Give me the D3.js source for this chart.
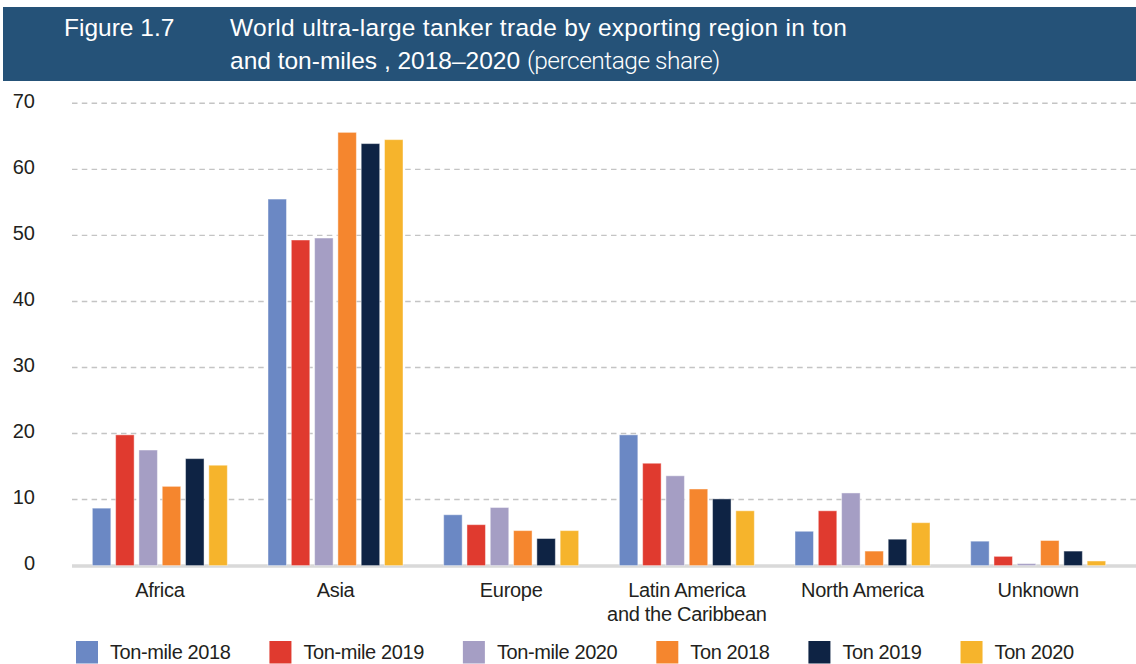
<!DOCTYPE html>
<html>
<head>
<meta charset="utf-8">
<script src="https://cdn.jsdelivr.net/npm/d3@7/dist/d3.min.js"></script>
<style>
  html, body { margin: 0; padding: 0; background: #ffffff; }
  svg { display: block; }
  text { font-family: "Liberation Sans", Arial, sans-serif; }
</style>
</head>
<body>
<svg id="chart" width="1136" height="664"></svg>
<script>
// ---- Data ----
const categories = ["Africa", "Asia", "Europe", "Latin America\nand the Caribbean", "North America", "Unknown"];
const seriesNames = ["Ton-mile 2018", "Ton-mile 2019", "Ton-mile 2020", "Ton 2018", "Ton 2019", "Ton 2020"];
const tonMile2018 = [8.7, 55.5, 7.7, 19.8, 5.2, 3.7];
const tonMile2019 = [19.8, 49.3, 6.2, 15.5, 8.3, 1.4];
const tonMile2020 = [17.5, 49.6, 8.8, 13.6, 11.0, 0.3];
const ton2018 = [12.0, 65.6, 5.3, 11.6, 2.2, 3.8];
const ton2019 = [16.2, 63.9, 4.1, 10.1, 4.0, 2.2];
const ton2020 = [15.2, 64.5, 5.3, 8.3, 6.5, 0.7];
const yTicks = [0, 10, 20, 30, 40, 50, 60, 70];
const seriesColors = ["#6b88c4", "#e03a2f", "#a59ec4", "#f5862e", "#0e2344", "#f6b42c"];

const seriesValues = [tonMile2018, tonMile2019, tonMile2020, ton2018, ton2019, ton2020];

// ---- Layout ----
const svg = d3.select("#chart");
const W = 1136;
const plotLeft = 72, plotRight = 1126, gridRight = 1136;
const yTop = 103.3, yBottom = 565.6;

// Header
svg.append("rect").attr("x", 3).attr("y", 7).attr("width", W - 3).attr("height", 74).attr("fill", "#255278");
svg.append("text").attr("x", 64).attr("y", 36).attr("fill", "#ffffff")
  .style("font-size", "24.5px").text("Figure 1.7");
svg.append("text").attr("x", 230).attr("y", 36).attr("fill", "#ffffff")
  .style("font-size", "24.5px").style("letter-spacing", "0.3px")
  .text("World ultra-large tanker trade by exporting region in ton");
const t2 = svg.append("text").attr("x", 230).attr("y", 68.5).attr("fill", "#ffffff").style("font-size", "24.5px");
t2.append("tspan").text("and ton-miles , 2018\u20132020 ");
t2.append("tspan").style("font-family", "Roboto, 'Liberation Sans', sans-serif").style("font-weight", "300")
  .style("letter-spacing", "-0.5px").text("(percentage share)");

// Scales
const y = d3.scaleLinear().domain([0, 70]).range([yBottom, yTop]);
const pI = 0.2315;
const x0 = d3.scaleBand().domain(categories).range([plotLeft, plotRight]).paddingInner(pI).paddingOuter(pI / 2);
const x1 = d3.scaleBand().domain(seriesNames).range([0, x0.bandwidth()]).paddingInner(0.206).paddingOuter(0);

// Gridlines
const grid = svg.append("g");
grid.selectAll("line").data(yTicks.filter(d => d > 0)).join("line")
  .attr("x1", plotLeft).attr("x2", gridRight)
  .attr("y1", d => y(d)).attr("y2", d => y(d))
  .attr("stroke", "#c4c4c4").attr("stroke-width", 1.4).attr("stroke-dasharray", "5.5,4.3");

// Baseline (drawn beneath bars)
svg.append("line").attr("x1", plotLeft).attr("x2", gridRight)
  .attr("y1", y(0) + 0.4).attr("y2", y(0) + 0.4)
  .attr("stroke", "#d9d9d9").attr("stroke-width", 3.5);

// Y axis labels via d3 axis
const yAxis = svg.append("g").attr("transform", `translate(${plotLeft},0)`)
  .call(d3.axisLeft(y).tickValues(yTicks).tickSize(0).tickPadding(37));
yAxis.select(".domain").remove();
yAxis.selectAll("text").style("font-size", "20px").attr("fill", "#231f20")
  .attr("dy", "0.2em").attr("x", -37).attr("text-anchor", "end");

// Bars
const groups = svg.append("g").selectAll("g").data(categories).join("g")
  .attr("transform", d => `translate(${x0(d)},0)`);
groups.selectAll("rect").data((d, i) => seriesNames.map((s, j) => ({ s, v: seriesValues[j][i], c: seriesColors[j] })))
  .join("rect")
  .attr("x", d => x1(d.s)).attr("width", x1.bandwidth())
  .attr("y", d => y(d.v)).attr("height", d => y(0) - y(d.v))
  .attr("fill", d => d.c)
  .attr("stroke", "#ffffff").attr("stroke-opacity", 0.45).attr("stroke-width", 1);

// X axis labels
const xAxis = svg.append("g").attr("transform", `translate(0,${yBottom})`)
  .call(d3.axisBottom(x0).tickSize(0).tickFormat(""));
xAxis.select(".domain").remove();
xAxis.selectAll(".tick").each(function (d) {
  const lines = d.split("\n");
  const t = d3.select(this).append("text").attr("text-anchor", "middle").attr("fill", "#231f20")
    .style("font-size", "20px").style("letter-spacing", "-0.3px");
  lines.forEach((ln, k) => t.append("tspan").attr("x", 0).attr("y", 31 + k * 24).text(ln));
});

// Legend
const legend = svg.append("g");
let lx = 76;
seriesNames.forEach((name, j) => {
  legend.append("rect").attr("x", lx).attr("y", 641).attr("width", 22).attr("height", 22.5).attr("fill", seriesColors[j]);
  const t = legend.append("text").attr("x", lx + 34).attr("y", 659.3).attr("fill", "#231f20")
    .style("font-size", "20px").style("letter-spacing", "-0.4px").text(name);
  lx += 34 + t.node().getComputedTextLength() + 39;
});
</script>
</body>
</html>
